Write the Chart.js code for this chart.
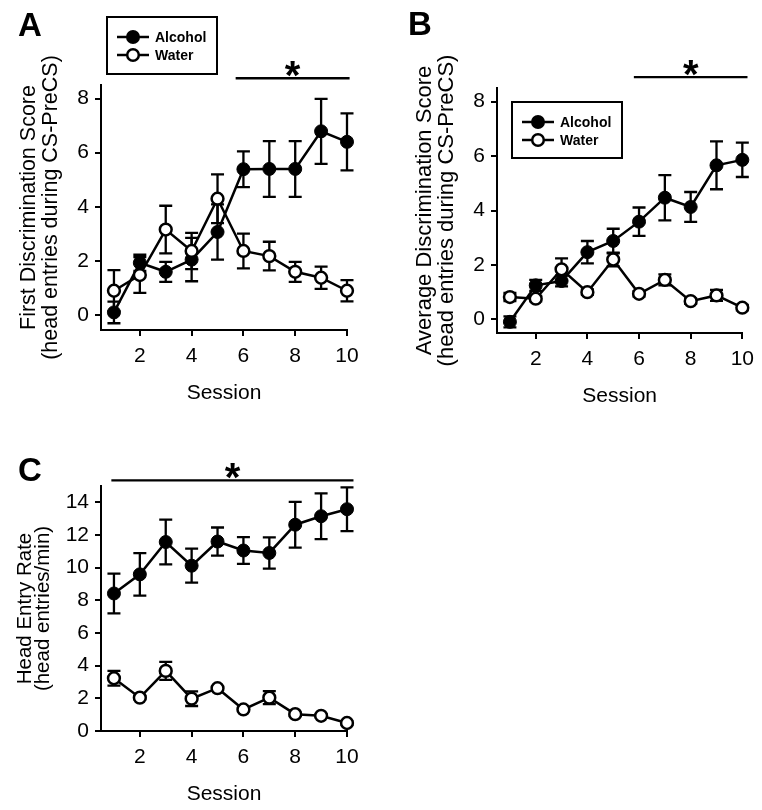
<!DOCTYPE html>
<html>
<head>
<meta charset="utf-8">
<script src="https://cdn.jsdelivr.net/npm/chart.js@4.4.1/dist/chart.umd.min.js"></script>
<style>
  body { margin: 0; background: #fff; }
  #page { position: relative; width: 762px; height: 810px; overflow: hidden; }
  canvas { position: absolute; }
</style>
</head>
<body>
<div id="page">
  <canvas id="chartA" width="381" height="405" style="left:0;top:0"></canvas>
  <canvas id="chartB" width="381" height="405" style="left:381px;top:0"></canvas>
  <canvas id="chartC" width="381" height="405" style="left:0;top:405px"></canvas>
</div>
<script>
const sessions = [1, 2, 3, 4, 5, 6, 7, 8, 9, 10]
const sessionTicks = [2, 4, 6, 8, 10]
const seriesNames = ["Alcohol", "Water"]

// A: first discrimination score
const firstAlcohol = [0.1, 1.93, 1.6, 2.05, 3.07, 5.39, 5.4, 5.4, 6.79, 6.4]
const firstAlcoholSem = [0.4, 0.3, 0.37, 0.8, 1.02, 0.66, 1.03, 1.03, 1.2, 1.05]
const firstWater = [0.9, 1.48, 3.16, 2.37, 4.3, 2.37, 2.18, 1.6, 1.38, 0.9]
const firstWaterSem = [0.76, 0.66, 0.88, 0.67, 0.9, 0.64, 0.53, 0.37, 0.41, 0.39]
const firstTicks = [0, 2, 4, 6, 8]
const firstSig = [5.7, 10.1]

// B: average discrimination score
const avgAlcohol = [-0.09, 1.25, 1.41, 2.47, 2.88, 3.59, 4.47, 4.13, 5.66, 5.86]
const avgAlcoholSem = [0.2, 0.2, 0.2, 0.41, 0.45, 0.52, 0.83, 0.55, 0.88, 0.63]
const avgWater = [0.82, 0.76, 1.84, 1.0, 2.2, 0.94, 1.45, 0.67, 0.88, 0.43]
const avgWaterSem = [0.15, 0.1, 0.4, 0.1, 0.25, 0.1, 0.2, 0.1, 0.2, 0.1]
const avgTicks = [0, 2, 4, 6, 8]
const avgSig = [5.8, 10.2]

// C: head entry rate
const rateAlcohol = [8.42, 9.59, 11.57, 10.12, 11.6, 11.05, 10.9, 12.63, 13.15, 13.58]
const rateAlcoholSem = [1.22, 1.3, 1.37, 1.04, 0.86, 0.82, 0.96, 1.4, 1.4, 1.34]
const rateWater = [3.23, 2.04, 3.68, 1.98, 2.62, 1.32, 2.04, 1.03, 0.93, 0.49]
const rateWaterSem = [0.45, 0.1, 0.55, 0.45, 0.1, 0.1, 0.4, 0.1, 0.1, 0.1]
const rateTicks = [0, 2, 4, 6, 8, 10, 12, 14]
const rateSig = [0.9, 10.25]

const FONT = "'Liberation Sans', Arial, Helvetica, sans-serif"

const points = (values) => sessions.map((s, i) => ({ x: s, y: values[i] }))

const errorBars = {
  id: "errorBars",
  beforeDatasetsDraw(chart) {
    const { ctx } = chart
    const { x, y } = chart.scales
    ctx.save()
    ctx.strokeStyle = "#000"
    ctx.lineWidth = 2.3
    chart.data.datasets.forEach((ds) => {
      ds.data.forEach((pt, i) => {
        const px = x.getPixelForValue(pt.x)
        const top = y.getPixelForValue(pt.y + ds.errors[i])
        const bottom = y.getPixelForValue(pt.y - ds.errors[i])
        ctx.beginPath()
        ctx.moveTo(px, top)
        ctx.lineTo(px, bottom)
        ctx.moveTo(px - 6.5, top)
        ctx.lineTo(px + 6.5, top)
        ctx.moveTo(px - 6.5, bottom)
        ctx.lineTo(px + 6.5, bottom)
        ctx.stroke()
      })
    })
    ctx.restore()
  },
}

const panelExtras = {
  id: "panelExtras",
  afterDraw(chart, args, opts) {
    const { ctx } = chart
    const { x, y } = chart.scales
    ctx.save()

    // panel letter
    ctx.fillStyle = "#000"
    ctx.font = `bold 33px ${FONT}`
    ctx.textAlign = "left"
    ctx.textBaseline = "alphabetic"
    ctx.fillText(opts.letter, opts.letterX, opts.letterY)

    // significance bar
    const x0 = x.getPixelForValue(opts.sig[0])
    const x1 = x.getPixelForValue(opts.sig[1])
    const sy = y.getPixelForValue(opts.sigLevel)
    ctx.strokeStyle = "#000"
    ctx.lineWidth = 2.3
    ctx.beginPath()
    ctx.moveTo(x0, sy)
    ctx.lineTo(x1, sy)
    ctx.stroke()
    ctx.font = `bold 40px ${FONT}`
    ctx.textAlign = "center"
    ctx.fillText("*", (x0 + x1) / 2, sy + 11)

    // legend box
    if (opts.legend) {
      const lg = opts.legend
      ctx.lineWidth = 2
      ctx.strokeRect(lg.x, lg.y, lg.w, lg.h)
      ctx.font = `bold 14px ${FONT}`
      ctx.textAlign = "left"
      ctx.textBaseline = "middle"
      seriesNames.forEach((name, i) => {
        const ry = lg.y + 20 + i * 18
        ctx.lineWidth = 2.5
        ctx.beginPath()
        ctx.moveTo(lg.x + 10, ry)
        ctx.lineTo(lg.x + 42, ry)
        ctx.stroke()
        ctx.beginPath()
        ctx.arc(lg.x + 26, ry, i === 0 ? 7 : 5.8, 0, Math.PI * 2)
        ctx.fillStyle = i === 0 ? "#000" : "#fff"
        ctx.fill()
        if (i === 1) ctx.stroke()
        ctx.fillStyle = "#000"
        ctx.fillText(name, lg.x + 48, ry + 1)
      })
    }
    ctx.restore()
  },
}

function makePanel(id, cfg) {
  const W = 381
  const H = 405
  const xAxisH = 76
  const area = cfg.area

  const axisStyle = {
    grid: { display: true, drawOnChartArea: false, drawTicks: true, tickLength: 6, color: "#000", lineWidth: 2 },
    border: { display: true, color: "#000", width: 2 },
  }

  return new Chart(document.getElementById(id), {
    type: "line",
    data: {
      datasets: [
        {
          label: seriesNames[0],
          data: points(cfg.alcohol),
          errors: cfg.alcoholSem,
          borderColor: "#000",
          borderWidth: 2.5,
          pointRadius: 6.5,
          pointBorderWidth: 1,
          pointBackgroundColor: "#000",
          pointBorderColor: "#000",
          clip: false,
          order: 1,
        },
        {
          label: seriesNames[1],
          data: points(cfg.water),
          errors: cfg.waterSem,
          borderColor: "#000",
          borderWidth: 2.5,
          pointRadius: 5.9,
          pointBorderWidth: 2.5,
          pointBackgroundColor: "#fff",
          pointBorderColor: "#000",
          clip: false,
          order: 0,
        },
      ],
    },
    options: {
      responsive: false,
      animation: false,
      layout: {
        padding: { left: 0, top: area.top, right: W - area.right, bottom: H - area.bottom - xAxisH },
      },
      scales: {
        x: {
          type: "linear",
          min: 0.5,
          max: 10,
          bounds: "data",
          ...axisStyle,
          afterBuildTicks: (axis) => {
            axis.ticks = sessionTicks.map((v) => ({ value: v }))
          },
          afterFit: (axis) => {
            axis.height = xAxisH
          },
          ticks: { color: "#000", font: { family: FONT, size: 21 }, padding: 8, maxRotation: 0 },
          title: {
            display: true,
            text: "Session",
            color: "#000",
            font: { family: FONT, size: 21 },
            padding: { top: 0, bottom: 0 },
          },
        },
        y: {
          type: "linear",
          min: cfg.yMin,
          max: cfg.yMax,
          bounds: "data",
          ...axisStyle,
          afterBuildTicks: (axis) => {
            axis.ticks = cfg.yTicks.map((v) => ({ value: v }))
          },
          afterFit: (axis) => {
            axis.width = area.left
          },
          ticks: { color: "#000", font: { family: FONT, size: 21 }, padding: 6 },
          title: {
            display: true,
            text: cfg.yTitle,
            color: "#000",
            font: { family: FONT, size: cfg.titleSize, lineHeight: cfg.titleLine },
            padding: { top: cfg.titlePad, bottom: 0 },
          },
        },
      },
      plugins: {
        legend: { display: false },
        tooltip: { enabled: false },
        panelExtras: {
          letter: cfg.letter,
          letterX: cfg.letterX,
          letterY: cfg.letterY,
          sig: cfg.sig,
          sigLevel: cfg.sigLevel,
          legend: cfg.legend,
        },
      },
    },
    plugins: [errorBars, panelExtras],
  })
}

makePanel("chartA", {
  area: { left: 101, top: 85, right: 347, bottom: 330 },
  alcohol: firstAlcohol,
  alcoholSem: firstAlcoholSem,
  water: firstWater,
  waterSem: firstWaterSem,
  yMin: -0.55,
  yMax: 8.5,
  yTicks: firstTicks,
  yTitle: ["First Discrimination Score", "(head entries during CS-PreCS)"],
  titleSize: 21.5,
  titleLine: 1.02,
  titlePad: 18,
  letter: "A",
  letterX: 18,
  letterY: 36,
  sig: firstSig,
  sigLevel: 8.75,
  legend: { x: 107, y: 17, w: 110, h: 57 },
})

makePanel("chartB", {
  area: { left: 116, top: 88, right: 362, bottom: 333 },
  alcohol: avgAlcohol,
  alcoholSem: avgAlcoholSem,
  water: avgWater,
  waterSem: avgWaterSem,
  yMin: -0.5,
  yMax: 8.5,
  yTicks: avgTicks,
  yTitle: ["Average Discrimination Score", "(head entries during CS-PreCS)"],
  titleSize: 22,
  titleLine: 1.0,
  titlePad: 33,
  letter: "B",
  letterX: 27,
  letterY: 35,
  sig: avgSig,
  sigLevel: 8.9,
  legend: { x: 131, y: 102, w: 110, h: 56 },
})

makePanel("chartC", {
  area: { left: 101, top: 81, right: 347, bottom: 326 },
  alcohol: rateAlcohol,
  alcoholSem: rateAlcoholSem,
  water: rateWater,
  waterSem: rateWaterSem,
  yMin: 0,
  yMax: 15,
  yTicks: rateTicks,
  yTitle: ["Head Entry Rate", "(head entries/min)"],
  titleSize: 20.5,
  titleLine: 0.85,
  titlePad: 17,
  letter: "C",
  letterX: 18,
  letterY: 76,
  sig: rateSig,
  sigLevel: 15.35,
  legend: null,
})
</script>
</body>
</html>
